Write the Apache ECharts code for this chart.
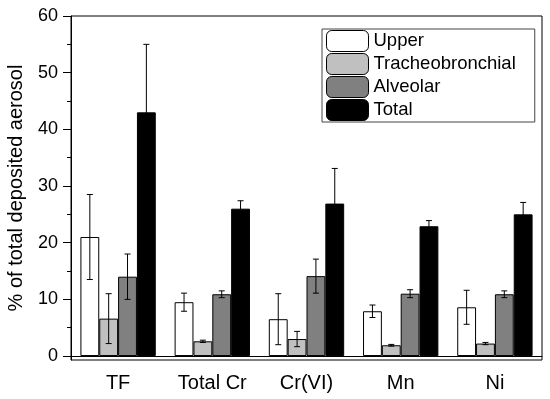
<!DOCTYPE html>
<html>
<head>
<meta charset="utf-8">
<script src="https://cdn.jsdelivr.net/npm/echarts@6/dist/echarts.min.js"></script>
<style>html,body{margin:0;padding:0;background:#fff}#c{width:550px;height:399px}</style>
</head>
<body>
<div id="c"></div>
<script>
const categories = ['TF', 'Total Cr', 'Cr(VI)', 'Mn', 'Ni'];
const seriesNames = ['Upper', 'Tracheobronchial', 'Alveolar', 'Total'];
const upper = [21.0, 9.5, 6.5, 7.9, 8.6];
const upperErr = [7.5, 1.6, 4.5, 1.1, 3.0];
const tracheo = [6.6, 2.6, 3.0, 1.9, 2.2];
const tracheoErr = [4.4, 0.2, 1.35, 0.15, 0.2];
const alveolar = [14.0, 10.9, 14.1, 11.0, 10.9];
const alveolarErr = [4.0, 0.6, 3.0, 0.7, 0.6];
const total = [43.0, 26.0, 26.9, 22.9, 25.0];
const totalErr = [12.0, 1.4, 6.2, 1.0, 2.1];
const yLabelValues = [0, 10, 20, 30, 40, 50, 60];
const yMinorValues = [5, 15, 25, 35, 45, 55];
const colors = ['#ffffff', '#c0c0c0', '#808080', '#000000'];

const values = [upper, tracheo, alveolar, total];
const errs = [upperErr, tracheoErr, alveolarErr, totalErr];
const FONT = 'Liberation Sans, Arial, sans-serif';

const errData = [];
values.forEach((arr, k) => arr.forEach((v, i) => {
  errData.push([i, k, v - errs[k][i], v + errs[k][i]]);
}));

const barSeries = seriesNames.map((name, k) => ({
  name: name,
  type: 'bar',
  data: values[k],
  barWidth: '20%',
  barGap: '0%',
  itemStyle: { color: colors[k], borderColor: '#000', borderWidth: 1 },
  emphasis: { disabled: true },
  markLine: k === 0 ? {
    silent: true, symbol: 'none', label: { show: false },
    lineStyle: { color: '#000', width: 1, type: 'solid' },
    data: [{ yAxis: 0 }]
  } : undefined
}));

const chart = echarts.init(document.getElementById('c'), null, { renderer: 'canvas' });
chart.setOption({
  animation: false,
  grid: { left: 71, right: 8, top: 16, bottom: 39, outerBoundsMode: 'none', containLabel: false, show: true, borderColor: '#000', borderWidth: 1, backgroundColor: 'transparent' },
  legend: {
    data: seriesNames,
    orient: 'vertical',
    left: 322, top: 29,
    itemWidth: 42, itemHeight: 21, itemGap: 1,
    padding: [1, 19, 1, 4],
    borderColor: '#444', borderWidth: 1,
    textStyle: { fontFamily: FONT, fontSize: 18.5, color: '#000' },
    itemStyle: { borderColor: '#000', borderWidth: 1 }
  },
  xAxis: [{
    type: 'category', data: categories,
    axisLine: { lineStyle: { color: '#000', width: 1 } },
    axisTick: { alignWithLabel: true, length: 8, lineStyle: { color: '#000' } },
    axisLabel: { fontFamily: FONT, fontSize: 20, color: '#000', margin: 13 }
  }, {
    type: 'category', data: categories, position: 'bottom',
    axisLine: { show: false },
    axisTick: { length: 5, lineStyle: { color: '#000' } },
    axisLabel: { show: false }
  }],
  yAxis: [{
    type: 'value', min: -0.7, max: 60,
    name: '% of total deposited aerosol', nameLocation: 'middle', nameGap: 45,
    nameTextStyle: { fontFamily: FONT, fontSize: 20, color: '#000' },
    axisLine: { show: true, lineStyle: { color: '#000', width: 1 } },
    axisTick: { show: true, length: 8, customValues: yLabelValues, lineStyle: { color: '#000' } },
    axisLabel: { fontFamily: FONT, fontSize: 18, color: '#000', margin: 13, customValues: yLabelValues },
    splitLine: { show: false }
  }, {
    type: 'value', min: -0.7, max: 60, position: 'left',
    axisLine: { show: false },
    axisTick: { show: true, length: 4, customValues: yMinorValues, lineStyle: { color: '#000' } },
    axisLabel: { show: false, customValues: yMinorValues },
    splitLine: { show: false }
  }],
  series: barSeries.concat([{
    type: 'custom',
    name: 'err',
    xAxisIndex: 0, yAxisIndex: 0,
    silent: true,
    z: 5,
    data: errData,
    encode: { x: 0, y: [2, 3] },
    renderItem: function (params, api) {
      const cat = api.value(0), k = api.value(1), lo = api.value(2), hi = api.value(3);
      const band = api.size([1, 0])[0];
      const barW = band * 0.2;
      const cx = api.coord([cat, 0])[0] + (k - 1.5) * barW;
      const yLo = api.coord([cat, lo])[1];
      const yHi = api.coord([cat, hi])[1];
      const hw = 3;
      const style = { stroke: '#000', lineWidth: 1 };
      return {
        type: 'group',
        children: [
          { type: 'line', shape: { x1: cx, y1: yLo, x2: cx, y2: yHi }, style: style },
          { type: 'line', shape: { x1: cx - hw, y1: yHi, x2: cx + hw, y2: yHi }, style: style },
          { type: 'line', shape: { x1: cx - hw, y1: yLo, x2: cx + hw, y2: yLo }, style: style }
        ]
      };
    }
  }])
});
</script>
</body>
</html>
